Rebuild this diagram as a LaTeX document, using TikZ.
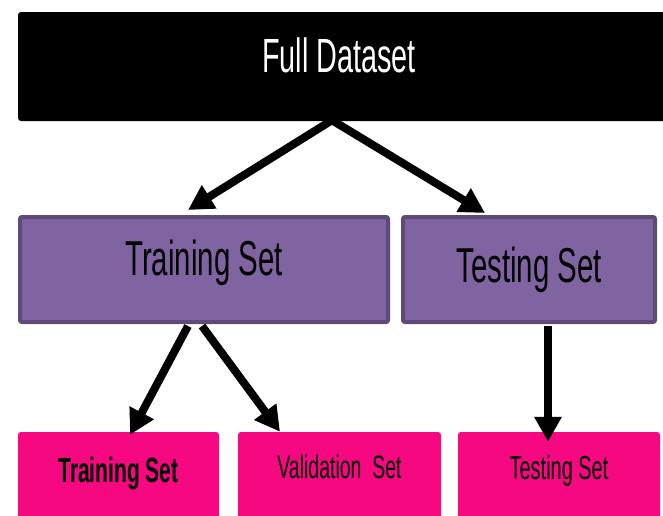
\documentclass[tikz,border=0pt]{standalone}
\usepackage{fontspec}
\setmainfont{Liberation Sans}[FakeStretch=0.6]
\usepackage{xcolor}
\usetikzlibrary{arrows.meta}
\definecolor{setfill}{RGB}{128,100,162}
\definecolor{setline}{RGB}{94,75,122}
\definecolor{splitfill}{RGB}{245,8,128}

\begin{document}
\begin{tikzpicture}[x=1pt, y=-1pt,
  box/.style={inner sep=0pt, anchor=base},
  fullbox/.style={box, fill=black, text=white, rounded corners=3pt, font=\fontsize{48}{58}\selectfont},
  setbox/.style={box, draw=setline, line width=4pt, fill=setfill, rounded corners=2pt, font=\fontsize{49}{59}\selectfont},
  splitbox/.style={box, fill=splitfill, text=black, rounded corners=3pt},
  arr/.style={-{Triangle[length=25pt, width=26pt]}, line width=8pt}]
  \useasboundingbox (0,0) rectangle (663,515);
  \clip (0,0) rectangle (663,515);
  \node[fullbox, minimum width=662pt, text height=60pt, text depth=49pt] (full) at (349,72) {Full Dataset\hspace*{20pt}};
  \node[setbox, minimum width=368pt, text height=58pt, text depth=47pt] (train) at (204,275) {Training Set};
  \node[setbox, minimum width=252pt, text height=65pt, text depth=40pt] (test) at (529,282) {Testing Set};
  \node[splitbox, minimum width=201pt, text height=50pt, text depth=43pt, font=\fontsize{35}{42}\selectfont\bfseries] (tr) at (118.5,482) {Training Set};
  \node[splitbox, minimum width=203pt, text height=46pt, text depth=47pt, font=\fontsize{32.5}{39}\selectfont] (val) at (339.5,478) {Validation\ \ Set};
  \node[splitbox, minimum width=202pt, text height=47pt, text depth=46pt, font=\fontsize{33.3}{40}\selectfont] (te) at (559,479) {Testing Set};
  \draw[arr] ([xshift=-17pt,yshift=1pt]full.south) -- ([xshift=-16pt,yshift=5pt]train.north);
  \draw[arr] ([xshift=-17pt,yshift=1pt]full.south) -- ([xshift=-44pt,yshift=2pt]test.north);
  \draw[arr] ([xshift=-16pt,yshift=-2pt]train.south) -- ([xshift=11.5pt,yshift=-3pt]tr.north);
  \draw[arr] ([xshift=-2pt,yshift=-2pt]train.south) -- ([xshift=-59.5pt]val.north);
  \draw[arr] ([xshift=19pt,yshift=-2pt]test.south) -- ([xshift=-11pt,yshift=-10pt]te.north);
\end{tikzpicture}
\end{document}
